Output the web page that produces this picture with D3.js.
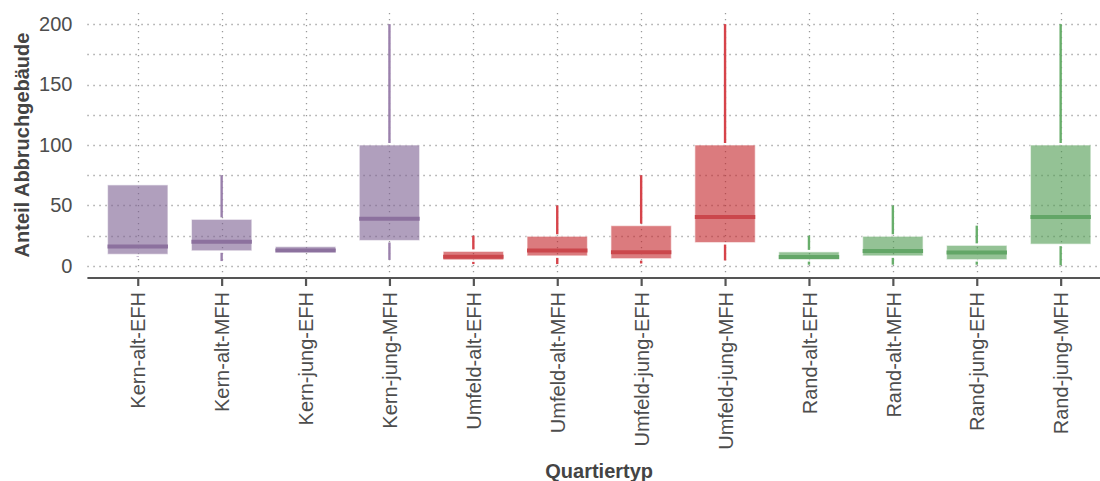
<!DOCTYPE html>
<html>
<head>
<meta charset="utf-8">
<script src="https://cdn.jsdelivr.net/npm/d3@7"></script>
<style>
  html, body { margin: 0; padding: 0; background: #fff; }
  svg { display: block; font-family: "Liberation Sans", Arial, sans-serif; }
</style>
</head>
<body>
<svg id="chart" width="1100" height="481"></svg>
<script>
// Quartiertypen und Boxplot-Kennwerte (Anteil Abbruchgebäude)
const categories = [
  "Kern-alt-EFH", "Kern-alt-MFH", "Kern-jung-EFH", "Kern-jung-MFH",
  "Umfeld-alt-EFH", "Umfeld-alt-MFH", "Umfeld-jung-EFH", "Umfeld-jung-MFH",
  "Rand-alt-EFH", "Rand-alt-MFH", "Rand-jung-EFH", "Rand-jung-MFH"
];
const groups  = ["Kern", "Kern", "Kern", "Kern", "Umfeld", "Umfeld", "Umfeld", "Umfeld", "Rand", "Rand", "Rand", "Rand"];
const lower   = [7.5, 4, 12.5, 5, 1.5, 1.5, 2, 4.5, 1, 1, 1, 0.5];
const q1      = [9.6, 12.5, 12.5, 21, 5, 8.3, 6, 19.3, 5.2, 8.3, 5.2, 18];
const median  = [16, 20, 12.8, 39, 7.5, 12.7, 11.3, 40.5, 7.4, 12.4, 11, 40.5];
const q3      = [67, 38.5, 16, 100, 12, 24.5, 33.3, 100, 11.6, 24.5, 17, 100];
const upper   = [67, 75, 16, 200, 25, 50, 75, 200, 25, 50, 33.3, 200];
const yTicks  = [0, 50, 100, 150, 200];
const yMinor  = [25, 75, 125, 175];

const palette = {
  Kern:   { fill: "#7b5f91", mid: "#8c719e", whisk: "#9a80ac" },
  Umfeld: { fill: "#c32328", mid: "#cb474c", whisk: "#d6434a" },
  Rand:   { fill: "#4d994e", mid: "#63a667", whisk: "#68ae6b" }
};

const svg = d3.select("#chart");
const plotLeft = 87.4, plotRight = 1111, plotTop = 12, plotBottom = 278;
const fontSize = 20;

const x = d3.scalePoint().domain(categories).range([plotLeft, plotRight]).padding(0.6);
const y = d3.scaleLinear().domain([-10, 210]).range([plotBottom, plotTop]);
const boxW = x.step() * 0.72;

// Gitterlinien (gepunktet)
const grid = svg.append("g").attr("class", "grid")
  .attr("stroke", "#9a9a9a").attr("stroke-width", 1.3)
  .attr("stroke-dasharray", "1.3 4.7");
grid.selectAll("line.h").data(yTicks.concat(yMinor)).join("line")
  .attr("class", "h")
  .attr("x1", plotLeft).attr("x2", 1100)
  .attr("y1", d => Math.round(y(d)) + 0.5).attr("y2", d => Math.round(y(d)) + 0.5);
grid.selectAll("line.v").data(categories).join("line")
  .attr("class", "v")
  .attr("x1", d => Math.round(x(d)) + 0.5).attr("x2", d => Math.round(x(d)) + 0.5)
  .attr("y1", plotTop + 1).attr("y2", plotBottom);

// Boxplots
const rows = categories.map((c, i) => ({
  c, g: groups[i], lo: lower[i], q1: q1[i], med: median[i], q3: q3[i], hi: upper[i]
}));
const gap = 2;
const boxes = svg.append("g").attr("class", "boxes");
const b = boxes.selectAll("g").data(rows).join("g");

b.filter(d => d.hi > d.q3).append("line")
  .attr("x1", d => x(d.c)).attr("x2", d => x(d.c))
  .attr("y1", d => y(d.hi)).attr("y2", d => y(d.q3) - gap)
  .attr("stroke", d => palette[d.g].whisk).attr("stroke-width", 2.4);
b.filter(d => d.lo < d.q1).append("line")
  .attr("x1", d => x(d.c)).attr("x2", d => x(d.c))
  .attr("y1", d => y(d.q1) + gap).attr("y2", d => y(d.lo))
  .attr("stroke", d => palette[d.g].whisk).attr("stroke-width", 2.4);

b.append("rect")
  .attr("x", d => x(d.c) - boxW / 2).attr("width", boxW)
  .attr("y", d => y(d.q3)).attr("height", d => y(d.q1) - y(d.q3))
  .attr("fill", d => palette[d.g].fill).attr("fill-opacity", 0.6)
  .attr("stroke", "#fff").attr("stroke-opacity", 0.55).attr("stroke-width", 1.2);

b.append("line")
  .attr("x1", d => x(d.c) - boxW / 2).attr("x2", d => x(d.c) + boxW / 2)
  .attr("y1", d => y(d.med)).attr("y2", d => y(d.med))
  .attr("stroke", d => palette[d.g].mid).attr("stroke-width", 4);

// Achsen
const yAxis = svg.append("g").attr("transform", `translate(${plotLeft},0)`)
  .call(d3.axisLeft(y).tickValues(yTicks).tickSize(0).tickPadding(15));
yAxis.select(".domain").remove();
yAxis.selectAll("text").attr("font-size", fontSize).attr("fill", "#4d4d4d")
  .attr("font-family", "Liberation Sans, Arial, sans-serif");

const xAxis = svg.append("g").attr("transform", `translate(0,${plotBottom})`)
  .call(d3.axisBottom(x).tickSize(8).tickSizeOuter(0).tickPadding(6));
xAxis.select(".domain").attr("stroke", "#555").attr("stroke-width", 2.2)
  .attr("d", `M${plotLeft},0H1100`);
xAxis.selectAll(".tick line").attr("stroke", "#555").attr("stroke-width", 2.2);
xAxis.selectAll("text")
  .attr("font-size", fontSize).attr("fill", "#4d4d4d")
  .attr("font-family", "Liberation Sans, Arial, sans-serif")
  .attr("transform", "rotate(-90)")
  .attr("text-anchor", "end")
  .attr("x", -14).attr("y", 0).attr("dy", "0.36em");

// Achsentitel
svg.append("text")
  .attr("transform", `translate(29,${(plotTop + plotBottom) / 2}) rotate(-90)`)
  .attr("text-anchor", "middle")
  .attr("font-size", fontSize).attr("font-weight", "bold").attr("fill", "#444")
  .text("Anteil Abbruchgebäude");

svg.append("text")
  .attr("x", (plotLeft + plotRight) / 2).attr("y", 478)
  .attr("text-anchor", "middle")
  .attr("font-size", fontSize).attr("font-weight", "bold").attr("fill", "#444")
  .text("Quartiertyp");
</script>
</body>
</html>
